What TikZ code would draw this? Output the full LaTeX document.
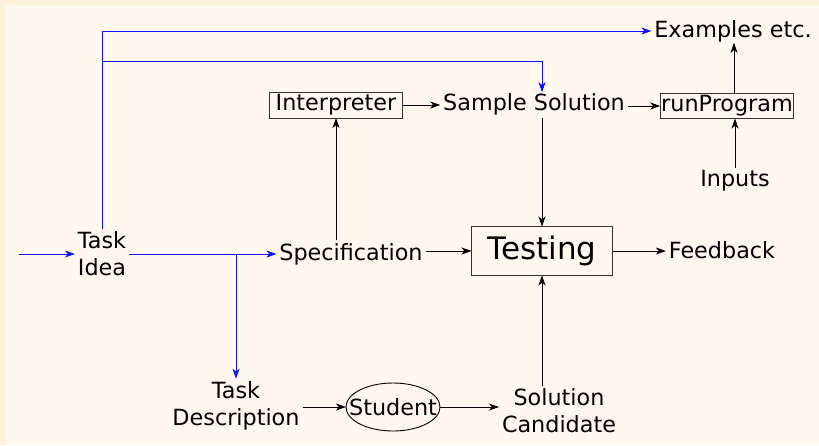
\documentclass[tikz,border=0pt]{standalone}
\usepackage{fontspec}
\setmainfont{DejaVu Sans}
\usetikzlibrary{arrows.meta,shapes.geometric}
\definecolor{bgout}{HTML}{FFF2DA}
\definecolor{bgin}{HTML}{FFF8EE}
\definecolor{lineblue}{HTML}{1010FF}
\begin{document}
\begin{tikzpicture}[x=1pt,y=-1pt,
  every node/.style={font=\fontsize{22.3}{27}\selectfont, inner sep=3pt, outer sep=0pt},
  txt/.style={align=center},
  boxed/.style={draw=black!80, line width=0.9pt, minimum height=26pt, inner ysep=0pt},
  conn/.style={draw=black, line width=0.9pt, -{Stealth[length=10pt,width=7pt,inset=2.8pt]}},
  bconn/.style={draw=lineblue, line width=0.9pt, -{Stealth[length=10pt,width=7pt,inset=2.8pt]}},
  bline/.style={draw=lineblue, line width=0.9pt}]
\fill[bgout] (0,0) rectangle (819,445);
\fill[bgin] (5,5) rectangle (819,445);
\useasboundingbox (0,0) rectangle (819,445);

\node[txt] (idea) at (102,254) {Task\\Idea};
\coordinate (in) at (19,254);
\node (examples) at (733,31) {Examples etc.};
\node[boxed, inner xsep=6pt] (interp) at (336,105) {Interpreter};
\node (sample) at (534,104) {Sample Solution};
\node[boxed, inner xsep=1pt, minimum height=25pt] (run) at (727,106) {runProgram};
\node (inputs) at (735,181) {Inputs};
\node (spec) at (351,254) {Specification};
\node[boxed, font=\fontsize{31}{36}\selectfont, minimum width=141pt, minimum height=49pt] (testing) at (542,251) {Testing};
\node (feedback) at (722,250) {Feedback};
\node[txt] (desc) at (236,406) {Task\\Description};
\node[inner sep=0pt] (student) at (393,407) {Student};
\draw[black, line width=0.9pt] (student.center) ellipse [x radius=47pt, y radius=24pt];
\coordinate (sw) at ([xshift=-47pt]student.center);
\coordinate (se) at ([xshift=47pt]student.center);
\node[txt] (cand) at (559,411) {Solution\\Candidate};

\coordinate (b1) at (102,61);
\coordinate (b2) at (236,254);

% blue connectors
\draw[bconn] (in) -- (idea.west);
\draw[bconn] (idea.north) |- (examples.west);
\draw[bconn] (b1) -| ([yshift=-2pt]sample.north -| 542,0);
\draw[bconn] (idea.east) -- (spec.west);
\draw[bconn] (b2) -- (desc.north -| b2);

% black connectors
\draw[conn] (spec.north -| interp.south) -- (interp.south);
\draw[conn] (interp.east) -- (interp.east -| sample.west);
\draw[conn] (sample.east |- run.west) -- (run.west);
\draw[conn] (run.north -| 734,0) -- ([yshift=2pt]examples.south -| 734,0);
\draw[conn] (inputs.north) -- (run.south -| inputs.north);
\draw[conn] (sample.south -| testing.north) -- (testing.north);
\draw[conn] (spec.east |- testing.west) -- (testing.west);
\draw[conn] (testing.east) -- (testing.east -| feedback.west);
\draw[conn] (cand.north -| testing.south) -- (testing.south);
\draw[conn] (desc.east |- sw) -- (sw);
\draw[conn] (se) -- (se -| cand.west);
\end{tikzpicture}
\end{document}
